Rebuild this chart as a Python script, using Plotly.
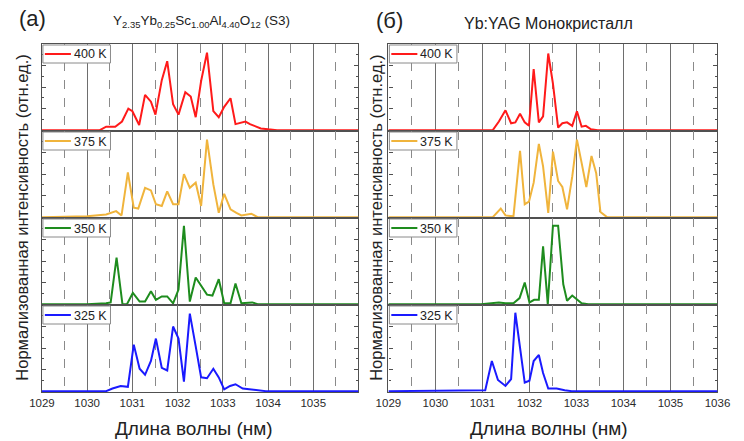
import plotly.graph_objects as go

# ---------------- data ----------------
temps = ["400 K", "375 K", "350 K", "325 K"]
colors = ["#ff1a1a", "#f0b43c", "#1e8c1e", "#1a1aff"]

# Left panel: Y2.35Yb0.25Sc1.00Al4.40O12 (S3)
a400_x = [1029.0, 1030.28, 1030.42, 1030.62, 1030.77, 1030.91, 1031.0, 1031.15, 1031.28, 1031.41, 1031.51,
          1031.65, 1031.77, 1031.9, 1032.02, 1032.17, 1032.29, 1032.4, 1032.52, 1032.65, 1032.79, 1032.91,
          1033.03, 1033.17, 1033.28, 1033.5, 1033.6, 1033.84, 1034.0, 1034.2, 1036.0]
a400_y = [0.0, 0.0, 0.04, 0.04, 0.10, 0.25, 0.22, 0.06, 0.41, 0.33, 0.18,
          0.58, 0.80, 0.30, 0.18, 0.44, 0.39, 0.15, 0.57, 0.90, 0.22, 0.15,
          0.27, 0.37, 0.07, 0.10, 0.07, 0.02, 0.01, 0.0, 0.0]

a375_x = [1029.0, 1030.0, 1030.42, 1030.64, 1030.76, 1030.9, 1031.03, 1031.13, 1031.28, 1031.41, 1031.52,
          1031.65, 1031.77, 1031.9, 1032.02, 1032.14, 1032.27, 1032.4, 1032.52, 1032.65, 1032.79, 1032.91,
          1033.03, 1033.17, 1033.3, 1033.41, 1033.63, 1033.77, 1036.0]
a375_y = [0.0, 0.01, 0.03, 0.07, 0.02, 0.52, 0.11, 0.10, 0.34, 0.31, 0.15,
          0.13, 0.30, 0.15, 0.15, 0.50, 0.34, 0.40, 0.13, 0.90, 0.38, 0.05,
          0.27, 0.09, 0.05, 0.02, 0.04, 0.0, 0.0]

a350_x = [1029.0, 1030.0, 1030.42, 1030.52, 1030.65, 1030.78, 1030.88, 1031.01, 1031.16, 1031.28, 1031.41,
          1031.52, 1031.65, 1031.77, 1031.9, 1032.02, 1032.14, 1032.27, 1032.4, 1032.52, 1032.65, 1032.77,
          1032.91, 1033.03, 1033.17, 1033.28, 1033.41, 1033.65, 1033.77, 1036.0]
a350_y = [0.0, 0.0, 0.01, 0.02, 0.54, 0.0, 0.0, 0.13, 0.03, 0.03, 0.15,
          0.05, 0.09, 0.09, 0.01, 0.17, 0.91, 0.03, 0.31, 0.21, 0.11, 0.10,
          0.29, 0.01, 0.01, 0.24, 0.01, 0.02, 0.0, 0.0]

a325_x = [1029.0, 1030.42, 1030.56, 1030.74, 1030.9, 1031.03, 1031.16, 1031.28, 1031.41, 1031.52, 1031.65,
          1031.77, 1031.9, 1032.02, 1032.14, 1032.27, 1032.4, 1032.52, 1032.65, 1032.79, 1032.91, 1033.03,
          1033.16, 1033.28, 1033.44, 1033.73, 1033.95, 1036.0]
a325_y = [0.0, 0.0, 0.03, 0.06, 0.05, 0.54, 0.26, 0.19, 0.35, 0.61, 0.27,
          0.24, 0.75, 0.61, 0.11, 0.90, 0.52, 0.16, 0.15, 0.26, 0.16, 0.02,
          0.06, 0.08, 0.03, 0.01, 0.0, 0.0]

# Right panel: Yb:YAG single crystal
b400_x = [1029.0, 1030.91, 1031.22, 1031.35, 1031.49, 1031.61, 1031.7, 1031.8, 1031.9, 1031.99, 1032.09,
          1032.2, 1032.29, 1032.4, 1032.5, 1032.61, 1032.7, 1032.8, 1032.91, 1033.01, 1033.11, 1033.2,
          1033.31, 1033.45, 1036.0]
b400_y = [0.0, 0.0, 0.0, 0.10, 0.23, 0.08, 0.09, 0.19, 0.09, 0.05, 0.71,
          0.09, 0.16, 0.89, 0.54, 0.03, 0.08, 0.09, 0.05, 0.22, 0.04, 0.05,
          0.01, 0.0, 0.0]

b375_x = [1029.0, 1031.22, 1031.39, 1031.49, 1031.66, 1031.8, 1031.9, 1031.99, 1032.09, 1032.2, 1032.29,
          1032.4, 1032.5, 1032.61, 1032.7, 1032.8, 1032.91, 1033.01, 1033.11, 1033.21, 1033.32, 1033.42,
          1033.51, 1033.65, 1036.0]
b375_y = [0.0, 0.0, 0.10, 0.02, 0.01, 0.77, 0.15, 0.18, 0.40, 0.85, 0.59,
          0.05, 0.76, 0.42, 0.35, 0.09, 0.47, 0.90, 0.63, 0.35, 0.71, 0.51,
          0.06, 0.0, 0.0]

b350_x = [1029.0, 1030.97, 1031.35, 1031.49, 1031.66, 1031.79, 1031.9, 1032.0, 1032.1, 1032.2, 1032.29,
          1032.39, 1032.5, 1032.61, 1032.72, 1032.8, 1032.91, 1033.01, 1033.11, 1033.25, 1036.0]
b350_y = [0.0, 0.0, 0.02, 0.01, 0.01, 0.07, 0.25, 0.02, 0.05, 0.05, 0.67,
          0.0, 0.91, 0.91, 0.23, 0.04, 0.10, 0.06, 0.01, 0.0, 0.0]

b325_x = [1029.0, 1030.64, 1030.91, 1031.06, 1031.2, 1031.33, 1031.49, 1031.61, 1031.7, 1031.8, 1031.9,
          1032.0, 1032.09, 1032.2, 1032.29, 1032.4, 1032.58, 1032.75, 1032.9, 1036.0]
b325_y = [0.0, 0.01, 0.01, 0.01, 0.35, 0.13, 0.06, 0.14, 0.91, 0.50, 0.10,
          0.12, 0.35, 0.42, 0.21, 0.03, 0.03, 0.01, 0.0, 0.0]

left_series = [(a400_x, a400_y), (a375_x, a375_y), (a350_x, a350_y), (a325_x, a325_y)]
right_series = [(b400_x, b400_y), (b375_x, b375_y), (b350_x, b350_y), (b325_x, b325_y)]

x_ticks_left = [1029, 1030, 1031, 1032, 1033, 1034, 1035]
x_ticks_right = [1029, 1030, 1031, 1032, 1033, 1034, 1035, 1036]

title_left = "Y<sub>2.35</sub>Yb<sub>0.25</sub>Sc<sub>1.00</sub>Al<sub>4.40</sub>O<sub>12</sub> (S3)"
title_right = "Yb:YAG Монокристалл"
y_title = "Нормализованная интенсивность (отн.ед.)"
x_title = "Длина волны (нм)"

# ---------------- layout geometry ----------------
W, H = 744, 441
FONT = "Liberation Sans, Arial, sans-serif"
AX = "#505050"

def px_x(p):
    return p / W

def px_y(p):
    return 1 - p / H

x_px = [(30, 358), (389, 730)]
x_dom = [[px_x(a), px_x(b)] for a, b in x_px]
row_px = [44, 131, 218, 305, 392]
y_dom = [[px_y(row_px[i + 1]), px_y(row_px[i])] for i in range(4)]

fig = go.Figure()
layout = dict(
    width=W, height=H,
    margin=dict(l=0, r=0, t=0, b=0),
    paper_bgcolor="white", plot_bgcolor="white",
    font=dict(family=FONT, color="#222222"),
    showlegend=False,
)

shapes = []
ann = []

k = 0
for col, series in enumerate([left_series, right_series]):
    for row in range(4):
        k += 1
        xs, ys = series[row]
        fig.add_trace(go.Scatter(
            x=xs, y=ys, mode="lines", name=temps[row],
            line=dict(color=colors[row], width=2),
            xaxis=f"x{k}", yaxis=f"y{k}",
        ))
        bottom = row == 3
        ticks = x_ticks_left if col == 0 else x_ticks_right
        layout[f"xaxis{k}"] = dict(
            domain=x_dom[col], anchor=f"y{k}",
            range=[1029, 1036],
            showline=True, linecolor=AX, linewidth=1.4, mirror=True,
            showgrid=True, gridcolor="#6e6e6e", gridwidth=1,
            tickvals=ticks,
            minor=dict(dtick=0.5, tick0=1029, showgrid=True, gridcolor="#8a8a8a",
                       griddash="dash", gridwidth=1),
            showticklabels=bottom, ticks="",
            tickfont=dict(size=11.5, color="#2a2a2a", family=FONT),
            zeroline=False, layer="below traces",
        )
        layout[f"yaxis{k}"] = dict(
            domain=y_dom[row], anchor=f"x{k}",
            range=[-0.01, 1.0],
            showline=True, linecolor=AX, linewidth=1.4, mirror="ticks",
            showgrid=False, zeroline=False, showticklabels=False,
            ticks="inside", ticklen=4, tickcolor=AX, dtick=0.25, tick0=0,
            minor=dict(ticks="inside", ticklen=2, dtick=0.125, tickcolor=AX),
            layer="below traces",
        )
        # legend box drawn as shapes + text
        bx0 = x_px[col][0] + 1
        by0 = row_px[row] + 1
        shapes.append(dict(type="rect", xref="paper", yref="paper", layer="above",
                           x0=px_x(bx0), x1=px_x(bx0 + 70), y0=px_y(by0 + 18), y1=px_y(by0),
                           fillcolor="white", line=dict(color="#8a8a8a", width=1)))
        shapes.append(dict(type="line", xref="paper", yref="paper", layer="above",
                           x0=px_x(bx0 + 2), x1=px_x(bx0 + 29), y0=px_y(by0 + 9), y1=px_y(by0 + 9),
                           line=dict(color=colors[row], width=2)))
        ann.append(dict(text=temps[row], x=px_x(bx0 + 30), y=px_y(by0 + 9.5),
                        xanchor="left", yanchor="middle",
                        font=dict(size=12.5, color="#222222")))

fig.update_layout(**layout)

ann.append(dict(text="(a)", x=px_x(4), y=px_y(18), xanchor="left", yanchor="middle",
                font=dict(size=22, color="#222222")))
ann.append(dict(text="(б)", x=px_x(374), y=px_y(20), xanchor="left", yanchor="middle",
                font=dict(size=22, color="#222222")))
ann.append(dict(text=title_left, x=px_x(195), y=px_y(22), xanchor="center", yanchor="middle",
                font=dict(size=13.5, color="#222222")))
ann.append(dict(text=title_right, x=px_x(555), y=px_y(24), xanchor="center", yanchor="middle",
                font=dict(size=16, color="#222222")))
for cx in [9, 376]:
    ann.append(dict(text=y_title, x=px_x(cx), y=px_y(218), xanchor="center", yanchor="middle",
                    textangle=-90, font=dict(size=16.5, color="#222222")))
for cx in [188, 555]:
    ann.append(dict(text=x_title, x=px_x(cx), y=px_y(428), xanchor="center", yanchor="middle",
                    font=dict(size=19, color="#222222")))
for a in ann:
    a.update(xref="paper", yref="paper", showarrow=False)
fig.update_layout(annotations=ann, shapes=shapes)

fig.write_html("out.html")
